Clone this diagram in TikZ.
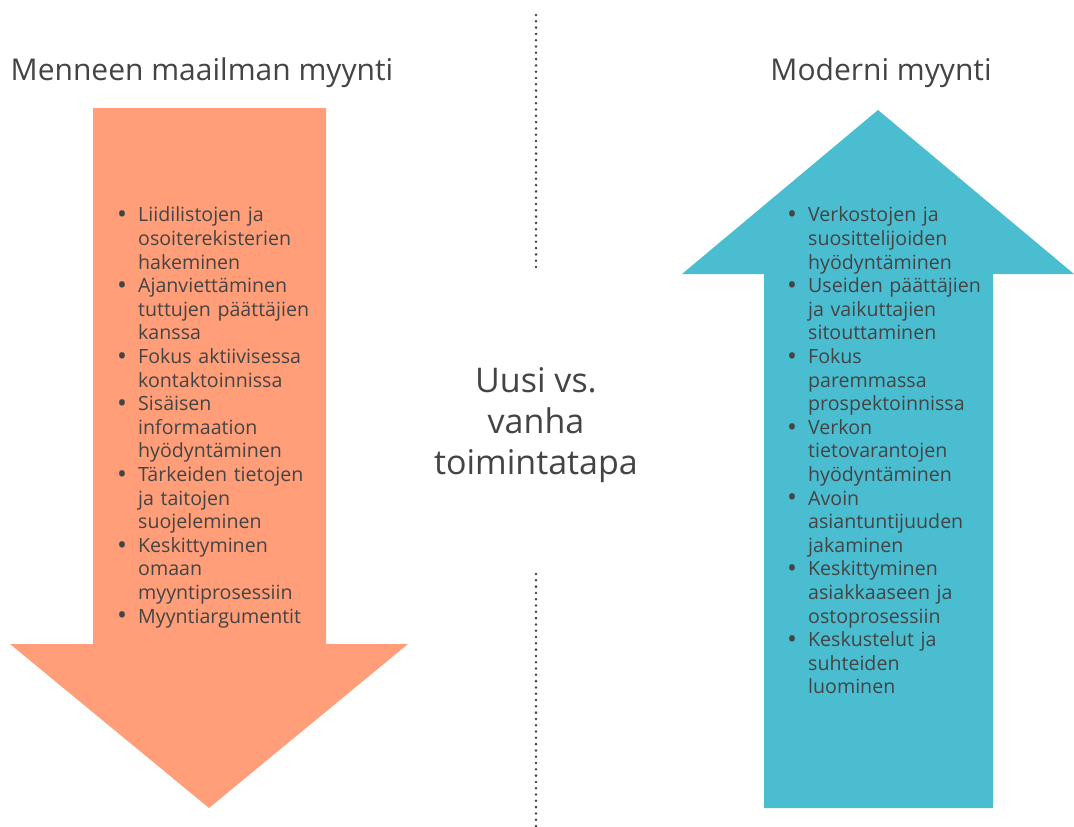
\documentclass[tikz,border=0pt]{standalone}
\usepackage{fontspec}
\setmainfont{Open Sans}
\usepackage{enumitem}
\usetikzlibrary{positioning}

\definecolor{oldsale}{HTML}{FF9E78}
\definecolor{newsale}{HTML}{4BBDD0}
\definecolor{txtgray}{HTML}{444444}

\newcommand{\bigdot}{\makebox[0pt][l]{\raisebox{-0.1em}{\scalebox{1.35}{\textbullet}}}}
\setlist[itemize]{label=\bigdot, leftmargin=21pt, labelwidth=9pt, labelsep=12pt, align=left, labelindent=0pt, topsep=0pt, partopsep=0pt, itemsep=0pt, parsep=0pt}

\begin{document}
\begin{tikzpicture}[x=1pt,y=-1pt,
	title/.style={font=\fontsize{30}{36}\selectfont, text=txtgray, inner sep=0pt},
	itemlist/.style={font=\fontsize{19.6}{23.6}\selectfont, text=txtgray, text width=210pt, inner sep=0pt, anchor=north west, align=left},
	middle/.style={font=\fontsize{34}{41}\selectfont, text=txtgray, align=center, inner sep=0pt},
	sep/.style={txtgray, line width=2.8pt, line cap=round, dash pattern=on 0pt off 6.3pt}]
	\useasboundingbox (0,0) rectangle (1074,827);

	% arrows
	\fill[oldsale] (93,108) -- (326,108) -- (326,644) -- (408,644) -- (209,808) -- (10,644) -- (93,644) -- cycle;
	\fill[newsale] (878,110) -- (1074,274) -- (993,274) -- (993,808) -- (764,808) -- (764,274) -- (682,274) -- cycle;

	\node[title] (oldtitle) at (202,73) {Menneen maailman myynti};
	\node[title] (newtitle) at (881,73) {Moderni myynti};

	\node[itemlist] (oldlist) at (117,198) {%
		\begin{itemize}
			\item Liidilistojen ja\\osoiterekisterien\\hakeminen
			\item Ajanviettäminen\\tuttujen päättäjien\\kanssa
			\item Fokus aktiivisessa\\kontaktoinnissa
			\item Sisäisen\\informaation\\hyödyntäminen
			\item Tärkeiden tietojen\\ja taitojen\\suojeleminen
			\item Keskittyminen\\omaan\\myyntiprosessiin
			\item Myyntiargumentit
		\end{itemize}};
	\node[itemlist] (newlist) at (787,198) {%
		\begin{itemize}
			\item Verkostojen ja\\suosittelijoiden\\hyödyntäminen
			\item Useiden päättäjien\\ja vaikuttajien\\sitouttaminen
			\item Fokus\\paremmassa\\prospektoinnissa
			\item Verkon\\tietovarantojen\\hyödyntäminen
			\item Avoin\\asiantuntijuuden\\jakaminen
			\item Keskittyminen\\asiakkaaseen ja\\ostoprosessiin
			\item Keskustelut ja\\suhteiden\\luominen
		\end{itemize}};

	\node[middle] (versus) at (536,425) {Uusi vs.\\vanha\\toimintatapa};

	\coordinate (septop) at (536,15);
	\coordinate (sepmidA) at (536,272);
	\coordinate (sepmidB) at (536,574);
	\coordinate (sepbot) at (536,827);
	\draw[sep] (septop) -- (sepmidA);
	\draw[sep] (sepmidB) -- (sepbot);
\end{tikzpicture}
\end{document}
